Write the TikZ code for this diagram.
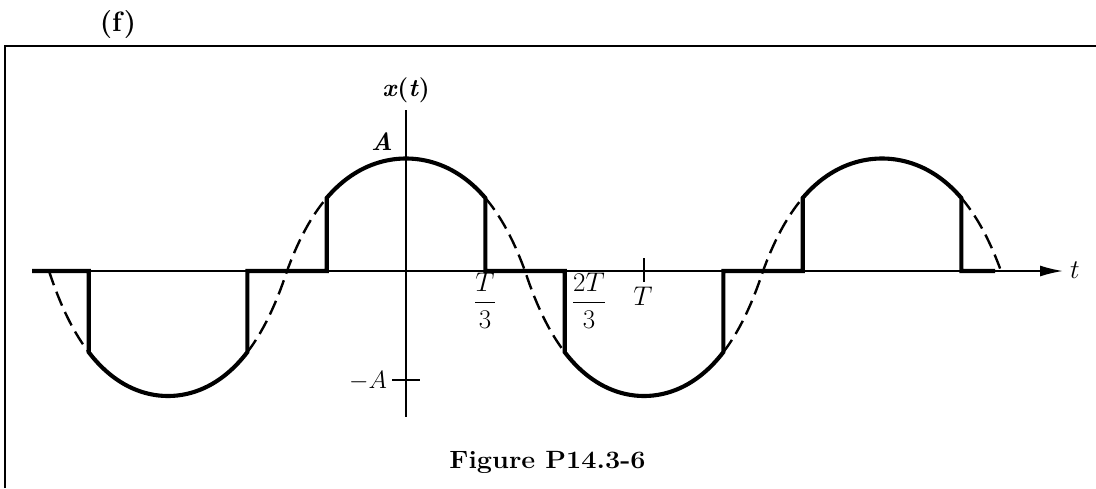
\RequirePackage{fix-cm}
\documentclass[tikz,border=0pt]{standalone}
\usepackage{amsmath}
\usepackage{graphicx}
\usetikzlibrary{arrows.meta}
\begin{document}
\begin{tikzpicture}[x=1pt,y=-1pt,
  declare function={cc(\x)=cos(0.756303*(\x-406)); ff(\x)=1.85*cc(\x)/(1+0.85*abs(cc(\x))); sig(\x)=271-ff(\x)*(cc(\x)>0?112.5:125);},
  frameline/.style={line width=1.3pt},
  axisline/.style={line width=1.8pt},
  sigline/.style={line width=4.1pt,line join=miter},
  dashline/.style={line width=2.4pt,dash pattern=on 15pt off 7pt},
  lbl/.style={inner sep=0pt,font=\fontsize{25}{28}\selectfont},
  tlbl/.style={inner sep=0pt,font=\fontsize{27}{30}\selectfont}]
\useasboundingbox (0,0) rectangle (1096,488);
% frame
\coordinate (fb) at (5,488);
\coordinate (ftl) at (5,46);
\coordinate (ftr) at (1096,46);
\draw[frameline] (fb) -- (ftl) -- (ftr);
% axes
\coordinate (xs) at (32,271);
\coordinate (xe) at (1063,271);
\coordinate (ys) at (406,110);
\coordinate (ye) at (406,417);
\draw[axisline,-{Latex[length=23pt,width=11pt]}] (xs) -- (xe);
\draw[axisline] (ys) -- (ye);
% ticks
\coordinate (tT1) at (644,258);
\coordinate (tT2) at (644,282);
\draw[axisline] (tT1) -- (tT2);
\coordinate (tA1) at (392,380);
\coordinate (tA2) at (420,380);
\draw[axisline] (tA1) -- (tA2);
% dashed sinusoid in off intervals
\foreach \a/\b in {49/88.7, 247.3/326.7, 485.3/564.7, 723.3/802.7, 961.3/1001}
  \draw[dashline] plot[domain=\a:\b,samples=30,variable=\x] ({\x},{sig(\x)});
% gated signal
\draw[sigline] (32,271) -- (88.7,271) -- (88.7,{sig(88.7)})
  -- plot[domain=88.7:247.3,samples=60,variable=\x] ({\x},{sig(\x)})
  -- (247.3,271) -- (326.7,271) -- (326.7,{sig(326.7)})
  -- plot[domain=326.7:485.3,samples=60,variable=\x] ({\x},{sig(\x)})
  -- (485.3,271) -- (564.7,271) -- (564.7,{sig(564.7)})
  -- plot[domain=564.7:723.3,samples=60,variable=\x] ({\x},{sig(\x)})
  -- (723.3,271) -- (802.7,271) -- (802.7,{sig(802.7)})
  -- plot[domain=802.7:961.3,samples=60,variable=\x] ({\x},{sig(\x)})
  -- (961.3,271) -- (995,271);
% labels
\node[inner sep=0pt,anchor=base,font=\fontsize{28}{32}\selectfont\bfseries] (title) at (118,31) {(f\kern2pt)};
\node[lbl,anchor=base] (xlab) at (406,96) {\textbf{\textit{x}(\textit{t})}};
\node[lbl,anchor=base] (Alab) at (382,150) {\textbf{\textit{A}}};
\node[lbl,anchor=base] (mAlab) at (368,388) {$-A$};
\node[tlbl] (T3lab) at (485,300.5) {$\dfrac{T}{3}$};
\node[tlbl] (T23lab) at (589,300.5) {$\dfrac{2T}{3}$};
\node[tlbl,anchor=base] (Tlab) at (643,305) {$T$};
\node[tlbl,anchor=base] (tlab) at (1075,278) {$t$};
\node[inner sep=0pt,anchor=base,font=\fontsize{25}{30}\selectfont\bfseries] (cap) at (547.5,468) {\scalebox{1.08}[1]{Figure P14.3-6}};
\end{tikzpicture}
\end{document}
